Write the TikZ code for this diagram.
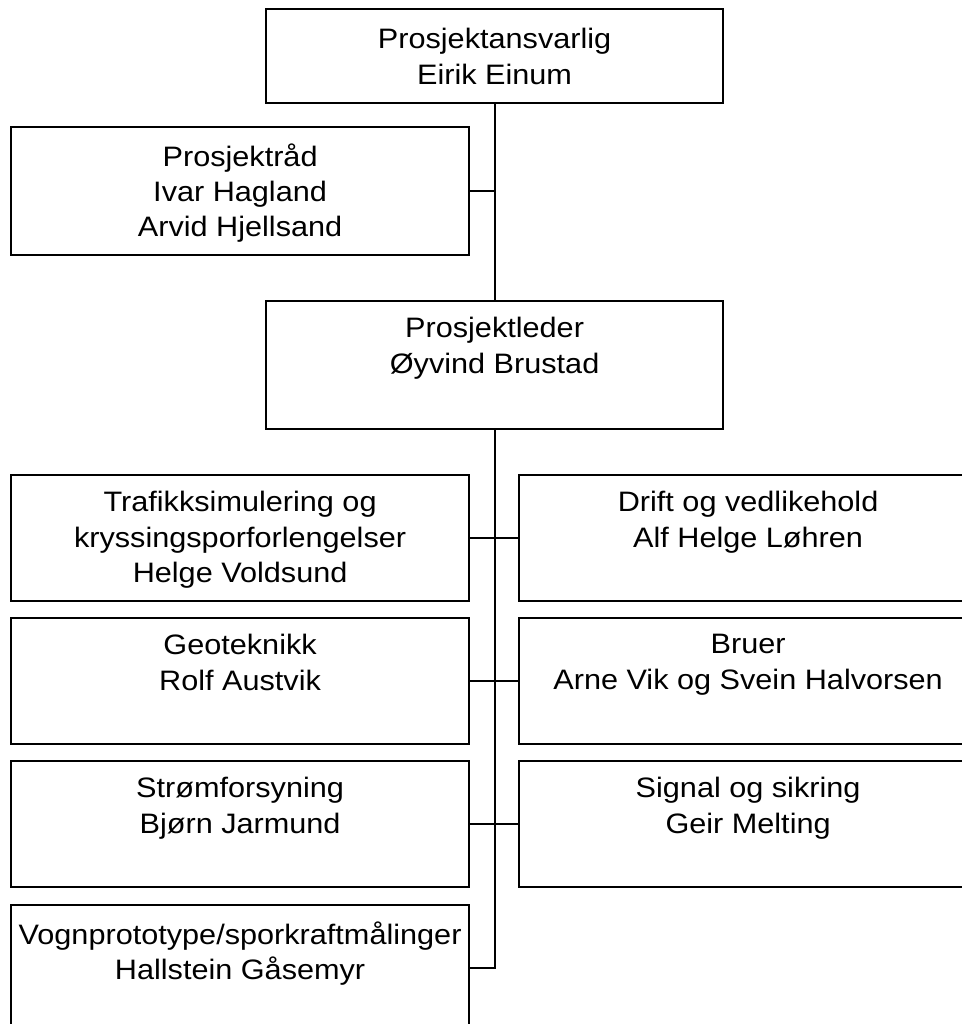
\documentclass[tikz,border=0pt]{standalone}
\usepackage{fontspec}
\setmainfont{Liberation Sans}[FakeStretch=1.09]

\begin{document}
\begin{tikzpicture}[x=0.02cm, y=-0.02cm, font=\fontsize{16}{20.2}\selectfont]
	\tikzset{orgbox/.style={draw, line width=1.3pt, fill=white, anchor=north west, minimum width=9.16cm, minimum height=2.52cm, inner sep=0pt},
		boxtext/.style={anchor=north, align=center, inner sep=0pt, yshift=-0.34cm},
		conn/.style={line width=1.1pt}}
	\useasboundingbox (0,0) rectangle (962,1024);
	\clip (0,0) rectangle (962,1024);
	\node[orgbox, minimum width=9.14cm, minimum height=1.88cm, label={[boxtext, yshift=-0.06cm]north:{Prosjektansvarlig\\Eirik Einum}}] (ansvarlig) at (265,8) {};
	\node[orgbox, minimum height=2.56cm, label={[boxtext]north:{Prosjektråd\\Ivar Hagland\\Arvid Hjellsand}}] (raad) at (10,126) {};
	\node[orgbox, minimum width=9.14cm, minimum height=2.56cm, label={[boxtext]north:{Prosjektleder\\Øyvind Brustad}}] (leder) at (265,300) {};
	\node[orgbox, label={[boxtext]north:{Trafikksimulering og\\kryssingsporforlengelser\\Helge Voldsund}}] (trafikk) at (10,474) {};
	\node[orgbox, label={[boxtext]north:{Drift og vedlikehold\\Alf Helge Løhren}}] (drift) at (518,474) {};
	\node[orgbox, label={[boxtext]north:{Geoteknikk\\Rolf Austvik}}] (geo) at (10,617) {};
	\node[orgbox, label={[boxtext]north:{Bruer\\Arne Vik og Svein Halvorsen}}] (bruer) at (518,617) {};
	\node[orgbox, label={[boxtext]north:{Strømforsyning\\Bjørn Jarmund}}] (strom) at (10,760) {};
	\node[orgbox, label={[boxtext]north:{Signal og sikring\\Geir Melting}}] (signal) at (518,760) {};
	\node[orgbox, label={[boxtext]north:{Vognprototype/sporkraftmålinger\\Hallstein Gåsemyr}}] (vogn) at (10,904) {};
	\draw[conn] (ansvarlig.south) -- (leder.north);
	\draw[conn] (raad.east) -- (raad.east -| ansvarlig.south);
	\draw[conn] (leder.south) -- (vogn.east -| leder.south) -- (vogn.east);
	\draw[conn] (trafikk.east) -- (drift.west);
	\draw[conn] (geo.east) -- (bruer.west);
	\draw[conn] (strom.east) -- (signal.west);
\end{tikzpicture}
\end{document}
